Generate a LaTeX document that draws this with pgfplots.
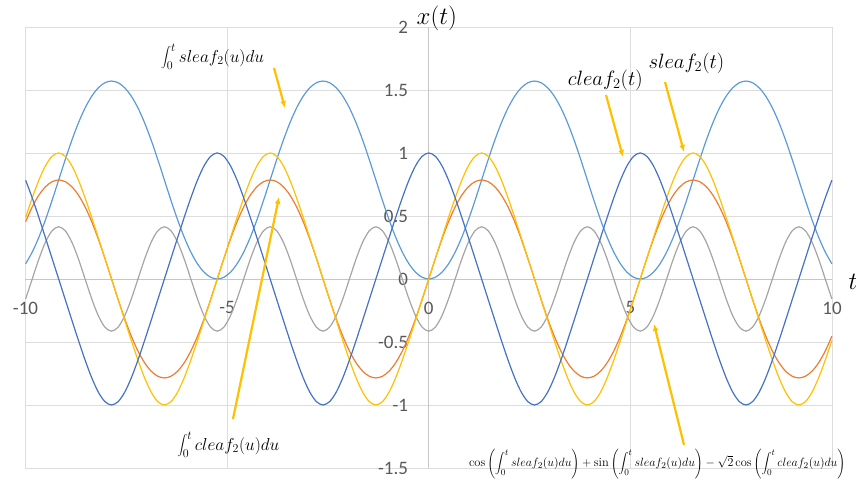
\documentclass[border=0pt]{standalone}
\usepackage{fontspec}
\newfontfamily\calib{Carlito}
\usepackage{pgfplots}
\usepackage{pgfplotstable}
\pgfplotsset{compat=1.18}
\usetikzlibrary{arrows.meta}

\definecolor{intS}{HTML}{5B9BD5}
\definecolor{intC}{HTML}{ED7D31}
\definecolor{combo}{HTML}{A5A5A5}
\definecolor{sleafc}{HTML}{FFC000}
\definecolor{cleafc}{HTML}{4472C4}
\definecolor{arrowc}{HTML}{FFC000}
\definecolor{gridc}{HTML}{DDDDDD}
\definecolor{axisc}{HTML}{C6C6C6}
\definecolor{tickc}{HTML}{595959}

% Leaf functions of degree 2, step = varpi/16
% I = int_0^t sleaf_2, J = int_0^t cleaf_2,
% G = cos(I) + sin(I) - sqrt(2) cos(J), S = sleaf_2(t), C = cleaf_2(t)
\pgfplotstableread{
t I J G S C
-9.9966 0.1206 0.4546 -0.1575 0.4888 0.7838
-9.8327 0.2135 0.5719 0.0000 0.6436 0.6436
-9.6688 0.3308 0.6648 0.1575 0.7838 0.4888
-9.5050 0.4690 0.7317 0.2918 0.8980 0.3274
-9.3411 0.6230 0.7720 0.3823 0.9735 0.1639
-9.1772 0.7854 0.7854 0.4142 1.0000 0.0000
-9.0133 0.9478 0.7720 0.3823 0.9735 -0.1639
-8.8494 1.1018 0.7317 0.2918 0.8980 -0.3274
-8.6856 1.2400 0.6648 0.1575 0.7838 -0.4888
-8.5217 1.3573 0.5719 0.0000 0.6436 -0.6436
-8.3578 1.4502 0.4546 -0.1575 0.4888 -0.7838
-8.1939 1.5171 0.3164 -0.2918 0.3274 -0.8980
-8.0301 1.5574 0.1624 -0.3823 0.1639 -0.9735
-7.8662 1.5708 0.0000 -0.4142 0.0000 -1.0000
-7.7023 1.5574 -0.1624 -0.3823 -0.1639 -0.9735
-7.5384 1.5171 -0.3164 -0.2918 -0.3274 -0.8980
-7.3745 1.4502 -0.4546 -0.1575 -0.4888 -0.7838
-7.2107 1.3573 -0.5719 0.0000 -0.6436 -0.6436
-7.0468 1.2400 -0.6648 0.1575 -0.7838 -0.4888
-6.8829 1.1018 -0.7317 0.2918 -0.8980 -0.3274
-6.7190 0.9478 -0.7720 0.3823 -0.9735 -0.1639
-6.5551 0.7854 -0.7854 0.4142 -1.0000 0.0000
-6.3913 0.6230 -0.7720 0.3823 -0.9735 0.1639
-6.2274 0.4690 -0.7317 0.2918 -0.8980 0.3274
-6.0635 0.3308 -0.6648 0.1575 -0.7838 0.4888
-5.8996 0.2135 -0.5719 0.0000 -0.6436 0.6436
-5.7358 0.1206 -0.4546 -0.1575 -0.4888 0.7838
-5.5719 0.0537 -0.3164 -0.2918 -0.3274 0.8980
-5.4080 0.0134 -0.1624 -0.3823 -0.1639 0.9735
-5.2441 0.0000 0.0000 -0.4142 0.0000 1.0000
-5.0802 0.0134 0.1624 -0.3823 0.1639 0.9735
-4.9164 0.0537 0.3164 -0.2918 0.3274 0.8980
-4.7525 0.1206 0.4546 -0.1575 0.4888 0.7838
-4.5886 0.2135 0.5719 0.0000 0.6436 0.6436
-4.4247 0.3308 0.6648 0.1575 0.7838 0.4888
-4.2608 0.4690 0.7317 0.2918 0.8980 0.3274
-4.0970 0.6230 0.7720 0.3823 0.9735 0.1639
-3.9331 0.7854 0.7854 0.4142 1.0000 0.0000
-3.7692 0.9478 0.7720 0.3823 0.9735 -0.1639
-3.6053 1.1018 0.7317 0.2918 0.8980 -0.3274
-3.4415 1.2400 0.6648 0.1575 0.7838 -0.4888
-3.2776 1.3573 0.5719 0.0000 0.6436 -0.6436
-3.1137 1.4502 0.4546 -0.1575 0.4888 -0.7838
-2.9498 1.5171 0.3164 -0.2918 0.3274 -0.8980
-2.7859 1.5574 0.1624 -0.3823 0.1639 -0.9735
-2.6221 1.5708 0.0000 -0.4142 0.0000 -1.0000
-2.4582 1.5574 -0.1624 -0.3823 -0.1639 -0.9735
-2.2943 1.5171 -0.3164 -0.2918 -0.3274 -0.8980
-2.1304 1.4502 -0.4546 -0.1575 -0.4888 -0.7838
-1.9665 1.3573 -0.5719 0.0000 -0.6436 -0.6436
-1.8027 1.2400 -0.6648 0.1575 -0.7838 -0.4888
-1.6388 1.1018 -0.7317 0.2918 -0.8980 -0.3274
-1.4749 0.9478 -0.7720 0.3823 -0.9735 -0.1639
-1.3110 0.7854 -0.7854 0.4142 -1.0000 0.0000
-1.1472 0.6230 -0.7720 0.3823 -0.9735 0.1639
-0.9833 0.4690 -0.7317 0.2918 -0.8980 0.3274
-0.8194 0.3308 -0.6648 0.1575 -0.7838 0.4888
-0.6555 0.2135 -0.5719 0.0000 -0.6436 0.6436
-0.4916 0.1206 -0.4546 -0.1575 -0.4888 0.7838
-0.3278 0.0537 -0.3164 -0.2918 -0.3274 0.8980
-0.1639 0.0134 -0.1624 -0.3823 -0.1639 0.9735
0.0000 0.0000 0.0000 -0.4142 0.0000 1.0000
0.1639 0.0134 0.1624 -0.3823 0.1639 0.9735
0.3278 0.0537 0.3164 -0.2918 0.3274 0.8980
0.4916 0.1206 0.4546 -0.1575 0.4888 0.7838
0.6555 0.2135 0.5719 0.0000 0.6436 0.6436
0.8194 0.3308 0.6648 0.1575 0.7838 0.4888
0.9833 0.4690 0.7317 0.2918 0.8980 0.3274
1.1472 0.6230 0.7720 0.3823 0.9735 0.1639
1.3110 0.7854 0.7854 0.4142 1.0000 0.0000
1.4749 0.9478 0.7720 0.3823 0.9735 -0.1639
1.6388 1.1018 0.7317 0.2918 0.8980 -0.3274
1.8027 1.2400 0.6648 0.1575 0.7838 -0.4888
1.9665 1.3573 0.5719 0.0000 0.6436 -0.6436
2.1304 1.4502 0.4546 -0.1575 0.4888 -0.7838
2.2943 1.5171 0.3164 -0.2918 0.3274 -0.8980
2.4582 1.5574 0.1624 -0.3823 0.1639 -0.9735
2.6221 1.5708 0.0000 -0.4142 0.0000 -1.0000
2.7859 1.5574 -0.1624 -0.3823 -0.1639 -0.9735
2.9498 1.5171 -0.3164 -0.2918 -0.3274 -0.8980
3.1137 1.4502 -0.4546 -0.1575 -0.4888 -0.7838
3.2776 1.3573 -0.5719 0.0000 -0.6436 -0.6436
3.4415 1.2400 -0.6648 0.1575 -0.7838 -0.4888
3.6053 1.1018 -0.7317 0.2918 -0.8980 -0.3274
3.7692 0.9478 -0.7720 0.3823 -0.9735 -0.1639
3.9331 0.7854 -0.7854 0.4142 -1.0000 0.0000
4.0970 0.6230 -0.7720 0.3823 -0.9735 0.1639
4.2608 0.4690 -0.7317 0.2918 -0.8980 0.3274
4.4247 0.3308 -0.6648 0.1575 -0.7838 0.4888
4.5886 0.2135 -0.5719 0.0000 -0.6436 0.6436
4.7525 0.1206 -0.4546 -0.1575 -0.4888 0.7838
4.9164 0.0537 -0.3164 -0.2918 -0.3274 0.8980
5.0802 0.0134 -0.1624 -0.3823 -0.1639 0.9735
5.2441 0.0000 0.0000 -0.4142 0.0000 1.0000
5.4080 0.0134 0.1624 -0.3823 0.1639 0.9735
5.5719 0.0537 0.3164 -0.2918 0.3274 0.8980
5.7358 0.1206 0.4546 -0.1575 0.4888 0.7838
5.8996 0.2135 0.5719 0.0000 0.6436 0.6436
6.0635 0.3308 0.6648 0.1575 0.7838 0.4888
6.2274 0.4690 0.7317 0.2918 0.8980 0.3274
6.3913 0.6230 0.7720 0.3823 0.9735 0.1639
6.5551 0.7854 0.7854 0.4142 1.0000 0.0000
6.7190 0.9478 0.7720 0.3823 0.9735 -0.1639
6.8829 1.1018 0.7317 0.2918 0.8980 -0.3274
7.0468 1.2400 0.6648 0.1575 0.7838 -0.4888
7.2107 1.3573 0.5719 0.0000 0.6436 -0.6436
7.3745 1.4502 0.4546 -0.1575 0.4888 -0.7838
7.5384 1.5171 0.3164 -0.2918 0.3274 -0.8980
7.7023 1.5574 0.1624 -0.3823 0.1639 -0.9735
7.8662 1.5708 0.0000 -0.4142 0.0000 -1.0000
8.0301 1.5574 -0.1624 -0.3823 -0.1639 -0.9735
8.1939 1.5171 -0.3164 -0.2918 -0.3274 -0.8980
8.3578 1.4502 -0.4546 -0.1575 -0.4888 -0.7838
8.5217 1.3573 -0.5719 0.0000 -0.6436 -0.6436
8.6856 1.2400 -0.6648 0.1575 -0.7838 -0.4888
8.8494 1.1018 -0.7317 0.2918 -0.8980 -0.3274
9.0133 0.9478 -0.7720 0.3823 -0.9735 -0.1639
9.1772 0.7854 -0.7854 0.4142 -1.0000 0.0000
9.3411 0.6230 -0.7720 0.3823 -0.9735 0.1639
9.5050 0.4690 -0.7317 0.2918 -0.8980 0.3274
9.6688 0.3308 -0.6648 0.1575 -0.7838 0.4888
9.8327 0.2135 -0.5719 0.0000 -0.6436 0.6436
9.9966 0.1206 -0.4546 -0.1575 -0.4888 0.7838
}\leafdata

\begin{document}
\begin{tikzpicture}
\begin{axis}[
  scale only axis,
  width=806.5pt, height=441pt,
  xmin=-10, xmax=10, ymin=-1.5, ymax=2,
  axis lines=middle,
  axis line style={draw=axisc, line width=0.8pt, -},
  hide obscured x ticks=false, hide obscured y ticks=false,
  xtick={-10,-5,0,5,10},
  xticklabels={-10,-5,0,5,10},
  ytick={-1.5,-1,-0.5,0,0.5,1,1.5,2},
  yticklabels={-1.5,-1,-0.5,0,0.5,1,1.5,2},
  major tick length=0pt,
  grid=major,
  grid style={draw=gridc, line width=0.8pt},
  ticklabel style={font=\calib\fontsize{19}{19}\selectfont, text=tickc},
  xticklabel style={anchor=center, yshift=-29pt},
  yticklabel style={anchor=east, inner sep=0pt, xshift=-20.5pt},
  clip=false,
  every axis plot/.append style={line width=1.2pt, no markers, smooth},
]
\addplot[intS]   table[x=t, y=I] {\leafdata};
\addplot[intC]   table[x=t, y=J] {\leafdata};
\addplot[combo]  table[x=t, y=G] {\leafdata};
\addplot[sleafc] table[x=t, y=S] {\leafdata};
\addplot[cleafc] table[x=t, y=C] {\leafdata};

% axis titles
\node at (axis cs:0.2,2.07) {\fontsize{27}{27}\selectfont$x(t)$};
\node at (axis cs:10.52,-0.02) {\fontsize{27}{27}\selectfont$t$};

% annotation arrows
\begin{scope}[arrowc, line width=2.2pt, -{Latex[length=7pt,width=6pt]}]
  \draw (axis cs:-3.838,1.675) -- (axis cs:-3.565,1.357);
  \draw (axis cs:-4.854,-1.111) -- (axis cs:-3.713,0.651);
  \draw (axis cs:4.396,1.460) -- (axis cs:4.817,0.968);
  \draw (axis cs:5.859,1.563) -- (axis cs:6.330,1.008);
  \draw (axis cs:6.330,-1.317) -- (axis cs:5.586,-0.357);
\end{scope}

% annotation labels
\node at (axis cs:-5.36,1.762) {\fontsize{17.5}{17.5}\selectfont$\displaystyle\int_0^t sleaf_2(u)du$};
\node at (axis cs:-4.97,-1.317) {\fontsize{18.5}{18.5}\selectfont$\displaystyle\int_0^t cleaf_2(u)du$};
\node at (axis cs:4.377,1.579) {\fontsize{20}{20}\selectfont$cleaf_2(t)$};
\node at (axis cs:6.39,1.714) {\fontsize{20}{20}\selectfont$sleaf_2(t)$};
\node at (axis cs:5.665,-1.468) {\fontsize{12.4}{12.4}\selectfont$\displaystyle\cos\left(\int_0^t sleaf_2(u)du\right)+\sin\left(\int_0^t sleaf_2(u)du\right)-\sqrt{2}\cos\left(\int_0^t cleaf_2(u)du\right)$};

\coordinate (bbll) at (axis cs:-10.632,-1.635);
\coordinate (bbur) at (axis cs:10.595,2.214);
\end{axis}
\pgfresetboundingbox
\path[use as bounding box] (bbll) rectangle (bbur);
\end{tikzpicture}
\end{document}
